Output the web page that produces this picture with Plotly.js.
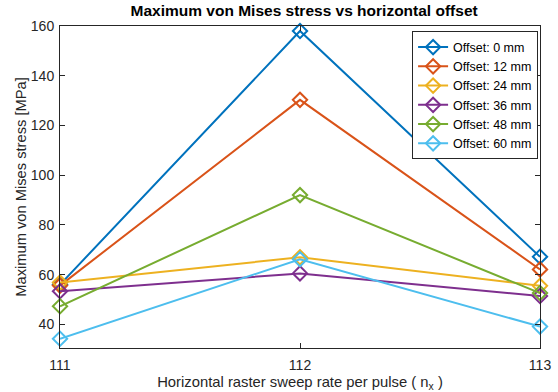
<!DOCTYPE html>
<html><head><meta charset="utf-8">
<script src="https://cdn.plot.ly/plotly-3.0.1.min.js"></script>
<style>body{margin:0;background:#fff}#c{width:558px;height:392px}</style>
</head><body><div id="c"></div>
<script>
const rates = [111, 112, 113];
const seriesNames = ["Offset: 0 mm","Offset: 12 mm","Offset: 24 mm","Offset: 36 mm","Offset: 48 mm","Offset: 60 mm"];
const off0  = [56.0, 158.0, 67.2];
const off12 = [55.6, 130.3, 62.1];
const off24 = [56.8, 67.0, 55.5];
const off36 = [53.3, 60.5, 51.4];
const off48 = [47.3, 92.0, 52.6];
const off60 = [34.2, 66.2, 39.1];
const yTicks = [40, 60, 80, 100, 120, 140, 160];
const colors = ["#0072BD","#D95319","#EDB120","#7E2F8E","#77AC30","#4DBEEE"];
const allSeries = [off0, off12, off24, off36, off48, off60];
const traces = allSeries.map((v,i)=>({
  x: rates, y: v, name: seriesNames[i], type:'scatter', mode:'lines+markers', cliponaxis:false,
  line:{color:colors[i], width:2},
  marker:{symbol:'diamond-open', size:11, color:colors[i], line:{width:2, color:colors[i]}}
}));
const layout = {
  width:558, height:392,
  margin:{l:60, r:18, t:26, b:44},
  paper_bgcolor:'#fff', plot_bgcolor:'#fff',
  font:{family:'Liberation Sans, Arial, sans-serif', size:14, color:'#262626'},
  title:{text:'<b>Maximum von Mises stress vs horizontal offset</b>', font:{size:15.5, color:'#000'}, x:0.545, xanchor:'center', y:0.987, yanchor:'top'},
  xaxis:{range:[111,113], tickvals:rates, ticktext:rates.map(String), showgrid:false, zeroline:false,
    showline:true, mirror:'ticks', linecolor:'#262626', linewidth:1, ticks:'inside', ticklen:5, tickcolor:'#262626',
    ticklabelstandoff:4,
    title:{text:'Horizontal raster sweep rate per pulse ( n<sub>x</sub> )', font:{size:14.8}, standoff:4}},
  yaxis:{range:[30.5,160], tickvals:yTicks, showgrid:false, zeroline:false,
    showline:true, mirror:'ticks', linecolor:'#262626', linewidth:1, ticks:'inside', ticklen:5, tickcolor:'#262626',
    ticklabelstandoff:2,
    title:{text:'Maximum von Mises stress [MPa]', font:{size:14.7}, standoff:0}},
  legend:{x:0.996, y:0.983, xanchor:'right', yanchor:'top', bgcolor:'#fff', bordercolor:'#262626', borderwidth:1,
    font:{size:12.5, color:'#000'}, tracegroupgap:0, itemwidth:30},
  showlegend:true
};
Plotly.newPlot('c', traces, layout, {displayModeBar:false, staticPlot:true});
</script></body></html>
